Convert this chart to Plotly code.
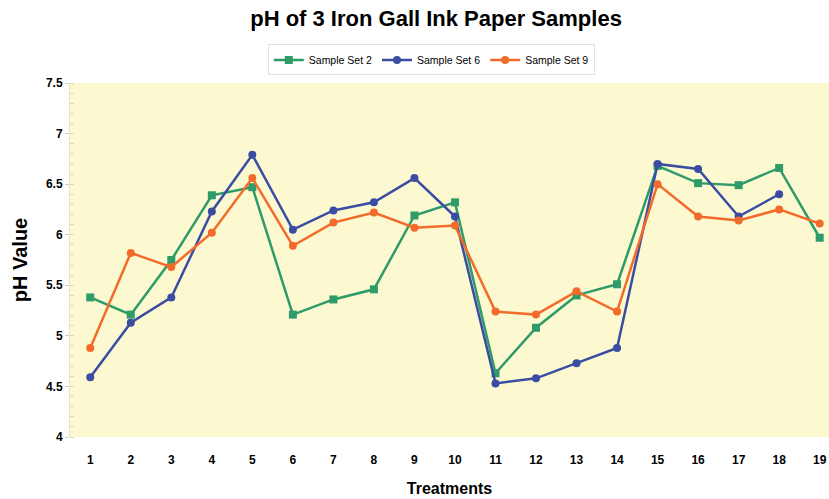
import plotly.graph_objects as go

treatments = list(range(1, 20))
set2 = [5.38, 5.21, 5.75, 6.39, 6.47, 5.21, 5.36, 5.46, 6.19, 6.32, 4.63, 5.08, 5.40, 5.51, 6.68, 6.51, 6.49, 6.66, 5.97]
set6 = [4.59, 5.13, 5.38, 6.23, 6.79, 6.05, 6.24, 6.32, 6.56, 6.18, 4.53, 4.58, 4.73, 4.88, 6.70, 6.65, 6.18, 6.40, None]
set9 = [4.88, 5.82, 5.68, 6.02, 6.56, 5.89, 6.12, 6.22, 6.07, 6.09, 5.24, 5.21, 5.44, 5.24, 6.50, 6.18, 6.14, 6.25, 6.11]
y_ticks = [4, 4.5, 5, 5.5, 6, 6.5, 7, 7.5]

FONT = "Liberation Sans Narrow, Arial Narrow, Liberation Sans, Arial, sans-serif"

fig = go.Figure()
fig.add_trace(go.Scatter(x=treatments, y=set2, name="Sample Set 2", mode="lines+markers",
                         line=dict(color="#2E9B68", width=2.5),
                         marker=dict(symbol="square", size=8, color="#2E9B68")))
fig.add_trace(go.Scatter(x=treatments, y=set6, name="Sample Set 6", mode="lines+markers",
                         line=dict(color="#3A4DA3", width=2.5),
                         marker=dict(symbol="circle", size=8, color="#3A4DA3")))
fig.add_trace(go.Scatter(x=treatments, y=set9, name="Sample Set 9", mode="lines+markers",
                         line=dict(color="#F36B2A", width=2.5),
                         marker=dict(symbol="circle", size=8, color="#F36B2A")))

fig.update_layout(
    width=829, height=499,
    margin=dict(l=70, r=0, t=83, b=62),
    paper_bgcolor="white",
    plot_bgcolor="#FCF9D1",
    font=dict(family=FONT, color="black"),
    title=dict(text="<b>pH of 3 Iron Gall Ink Paper Samples</b>", x=0.526, xanchor="center",
               y=0.964, yanchor="middle", font=dict(size=22, family=FONT)),
    legend=dict(orientation="h", x=0.476, xanchor="center", y=1.065, yanchor="middle",
                bordercolor="#E2E2E2", borderwidth=1, bgcolor="white",
                font=dict(size=10.5, family=FONT), itemwidth=30, tracegroupgap=0),
    showlegend=True,
)
fig.update_xaxes(
    range=[0.5, 19.23], tickmode="array", tickvals=treatments,
    ticktext=[f"<b>{t}</b>" for t in treatments],
    tickfont=dict(size=12, family=FONT), showgrid=False, zeroline=False,
    ticks="", ticklabelstandoff=14,
    title=dict(text="<b>Treatments</b>", font=dict(size=16, family=FONT), standoff=16),
)
fig.update_yaxes(
    range=[4, 7.5], tickmode="array", tickvals=y_ticks,
    ticktext=[f"<b>{v:g}</b>" for v in y_ticks],
    tickfont=dict(size=12, family=FONT), showgrid=False, zeroline=False,
    showline=True, linecolor="#E6E3C0", linewidth=1,
    ticks="outside", ticklen=4, tickcolor="#CFCFCF",
    minor=dict(dtick=0.1, ticks="inside", ticklen=4, tickcolor="#DDDAB5"),
    title=dict(text="<b>pH Value</b>", font=dict(size=20, family="Liberation Sans, Arial, sans-serif"), standoff=12),
)

fig.write_html(
    "out.html",
    config={"displayModeBar": False},
    post_script="document.body.style.margin='0';document.body.style.overflow='hidden';",
)
